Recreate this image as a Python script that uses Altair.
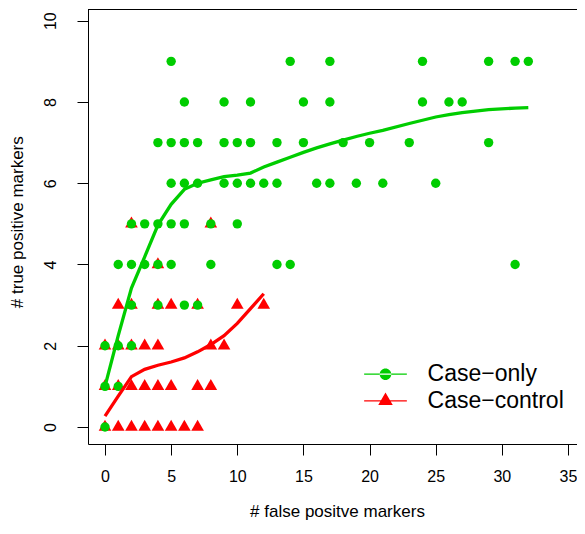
import altair as alt
import pandas as pd

GREEN = "#00CD00"
RED = "#FF0000"
FONT = "Liberation Sans"

# ---- Case-only points (green circles): x = # false positive, y = # true positive
co_x = ([5, 14, 17, 24, 29, 31, 32] +
        [6, 9, 11, 15, 17, 24, 26, 27] +
        [4, 5, 6, 7, 9, 10, 11, 13, 15, 18, 20, 23, 29] +
        [5, 6, 7, 9, 10, 11, 12, 13, 16, 17, 19, 21, 25] +
        [2, 3, 4, 5, 6, 8, 10] +
        [1, 2, 3, 4, 5, 8, 13, 14, 31] +
        [2, 4, 6, 7] +
        [0, 1, 2] +
        [0, 1] +
        [0])
co_y = ([9] * 7 + [8] * 8 + [7] * 13 + [6] * 13 + [5] * 7 + [4] * 9 +
        [3] * 4 + [2] * 3 + [1] * 2 + [0] * 1)

# ---- Case-control points (red triangles)
cc_x = ([2, 8] +
        [4] +
        [1, 2, 4, 5, 7, 10, 12] +
        [0, 1, 2, 3, 4, 8, 9] +
        [0, 1, 2, 3, 4, 5, 7, 8] +
        [0, 1, 2, 3, 4, 5, 6, 7])
cc_y = [5] * 2 + [4] * 1 + [3] * 7 + [2] * 7 + [1] * 8 + [0] * 8

# ---- smoothed curves
co_curve_x = [0, 1, 2, 3, 4, 5, 6, 7, 8, 9, 10, 11, 12, 13, 14, 15, 16, 17,
              18, 19, 20, 21, 23, 24, 25, 26, 27, 29, 31, 32]
co_curve_y = [1.0, 2.25, 3.42, 4.19, 4.97, 5.48, 5.85, 6.0, 6.08, 6.16, 6.2,
              6.25, 6.4, 6.52, 6.64, 6.76, 6.87, 6.97, 7.06, 7.15, 7.23, 7.3,
              7.47, 7.55, 7.63, 7.69, 7.74, 7.81, 7.85, 7.86]
cc_curve_x = [0, 1, 2, 3, 4, 5, 6, 7, 8, 9, 10, 12]
cc_curve_y = [0.27, 0.76, 1.24, 1.42, 1.52, 1.6, 1.7, 1.85, 2.03, 2.25, 2.55, 3.28]

series_names = ["Case\u2212only", "Case\u2212control"]

co_df = pd.DataFrame({"x": co_x, "y": co_y, "series": series_names[0]})
cc_df = pd.DataFrame({"x": cc_x, "y": cc_y, "series": series_names[1]})
co_curve = pd.DataFrame({"x": co_curve_x, "y": co_curve_y})
cc_curve = pd.DataFrame({"x": cc_curve_x, "y": cc_curve_y})

TRI = "M0,-1.155L1,0.577L-1,0.577Z"
LEG_LINE = "M-1,-0.026L1,-0.026L1,0.026L-1,0.026Z"
LEG_CO = LEG_LINE + "M-0.27,0A0.27,0.27 0 1,0 0.27,0A0.27,0.27 0 1,0 -0.27,0Z"
LEG_CC = LEG_LINE + "M0,-0.393L0.34,0.196L-0.34,0.196Z"

W, H = 489, 435

xs = alt.Scale(domain=[-1.285, 35.68], nice=False, zero=False)
ys = alt.Scale(domain=[-0.418, 10.288], nice=False, zero=False)

x_axis = alt.Axis(values=[0, 5, 10, 15, 20, 25, 30, 35], title="# false positve markers",
                  grid=False, domain=True, domainColor="black", domainWidth=1,
                  tickSize=11, tickColor="black", tickWidth=1,
                  labelFont=FONT, labelFontSize=16, labelColor="black", labelPadding=26.7,
                  labelBaseline="alphabetic", labelAlign="center", labelFlush=False,
                  labelOverlap=False, titleFont=FONT, titleFontSize=17,
                  titleFontWeight="normal", titleColor="black", titleX=249, titleY=72,
                  titleBaseline="alphabetic", titleAlign="center")
y_axis = alt.Axis(values=[0, 2, 4, 6, 8, 10], title="# true positive markers",
                  grid=False, domain=True, domainColor="black", domainWidth=1,
                  tickSize=11, tickColor="black", tickWidth=1,
                  labelFont=FONT, labelFontSize=16, labelColor="black", labelPadding=22,
                  labelAngle=270, labelBaseline="alphabetic", labelAlign="center",
                  labelFlush=False, labelOverlap=False, titleFont=FONT, titleFontSize=17,
                  titleFontWeight="normal", titleColor="black", titleAngle=270,
                  titleX=-66, titleY=212.7, titleBaseline="alphabetic", titleAlign="center")


def legend(symbol, ly):
    return alt.Legend(title=None, orient="none", legendX=276, legendY=ly,
                      symbolType=symbol, symbolSize=1823, symbolStrokeWidth=0,
                      labelFont=FONT, labelFontSize=23, labelColor="black",
                      labelOffset=20.6, padding=0, rowPadding=0)


X = alt.X("x:Q", scale=xs, axis=x_axis)
Y = alt.Y("y:Q", scale=ys, axis=y_axis)

red_pts = alt.Chart(cc_df).mark_point(filled=True, opacity=1, shape=TRI, size=160,
                                      strokeWidth=0).encode(
    x=X, y=Y,
    color=alt.Color("series:N", scale=alt.Scale(domain=[series_names[1]], range=[RED]),
                    legend=legend(LEG_CC, 370.35)))
green_pts = alt.Chart(co_df).mark_point(filled=True, opacity=1, shape="circle", size=88,
                                        strokeWidth=0).encode(
    x=X, y=Y,
    color=alt.Color("series:N", scale=alt.Scale(domain=[series_names[0]], range=[GREEN]),
                    legend=legend(LEG_CO, 343.65)))
green_line = alt.Chart(co_curve).mark_line(color=GREEN, strokeWidth=3.3).encode(x=X, y=Y)
red_line = alt.Chart(cc_curve).mark_line(color=RED, strokeWidth=3.3).encode(x=X, y=Y)

# top edge of the plot frame (the right edge falls outside the picture, as in the original)
top_edge = alt.Chart(pd.DataFrame({"k": [0]})).mark_rule(color="black", strokeWidth=1).encode(
    x=alt.value(0), x2=alt.value(W), y=alt.value(0.5))

chart = alt.layer(red_pts, green_pts, green_line, red_line, top_edge).resolve_scale(
    color="independent"
).properties(
    width=W, height=H,
    autosize=alt.AutoSizeParams(type="none"),
    padding={"left": 80, "top": 1, "right": 0, "bottom": 76},
    background="white",
).configure_view(strokeWidth=0)

chart.save("out.html", embed_options={"renderer": "svg", "actions": False})
